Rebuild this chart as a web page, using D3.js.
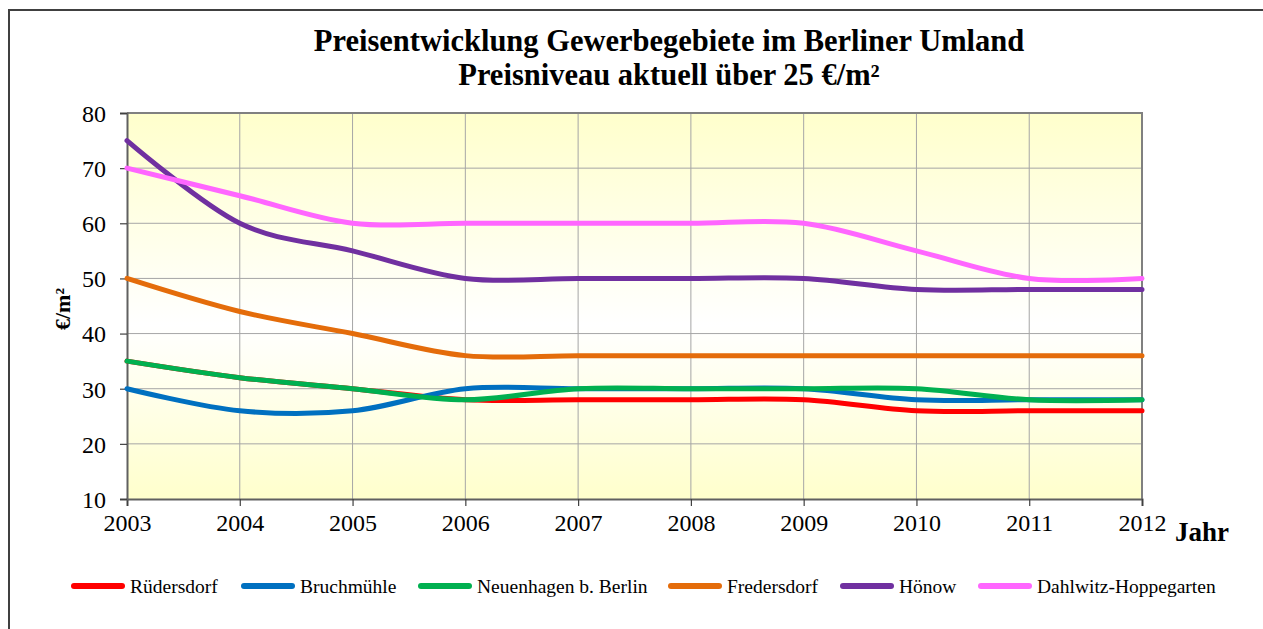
<!DOCTYPE html>
<html>
<head>
<meta charset="utf-8">
<script src="https://cdn.jsdelivr.net/npm/d3@7"></script>
<style>
  body { margin: 0; background: #fff; }
  svg { display: block; font-family: "Liberation Serif", "Times New Roman", serif; }
</style>
</head>
<body>
<svg id="chart" width="1263" height="629"></svg>
<script>
// years on the x axis
var years = [2003, 2004, 2005, 2006, 2007, 2008, 2009, 2010, 2011, 2012];
var yTicks = [10, 20, 30, 40, 50, 60, 70, 80];

// series values, one array per place
var ruedersdorf = [35, 32, 30, 28, 28, 28, 28, 26, 26, 26];
var bruchmuehle = [30, 26, 26, 30, 30, 30, 30, 28, 28, 28];
var neuenhagen  = [35, 32, 30, 28, 30, 30, 30, 30, 28, 28];
var fredersdorf = [50, 44, 40, 36, 36, 36, 36, 36, 36, 36];
var hoenow      = [75, 60, 55, 50, 50, 50, 50, 48, 48, 48];
var dahlwitz    = [70, 65, 60, 60, 60, 60, 60, 55, 50, 50];

var seriesNames  = ["Rüdersdorf", "Bruchmühle", "Neuenhagen b. Berlin", "Fredersdorf", "Hönow", "Dahlwitz-Hoppegarten"];
var seriesValues = [ruedersdorf, bruchmuehle, neuenhagen, fredersdorf, hoenow, dahlwitz];
var seriesColors = ["#ff0000", "#0070c0", "#00b050", "#e46c0a", "#7030a0", "#ff66ff"];

var svg = d3.select("#chart");

// outer chart frame (runs off the right and bottom of the picture)
svg.append("rect")
  .attr("x", 9).attr("y", 10)
  .attr("width", 1300).attr("height", 700)
  .style("fill", "none")
  .style("stroke", "#404040")
  .style("stroke-width", 2);

var plotLeft = 127, plotRight = 1142, plotTop = 113, plotBottom = 499;

var x = d3.scaleLinear().domain([2003, 2012]).range([plotLeft, plotRight]);
var y = d3.scaleLinear().domain([10, 80]).range([plotBottom, plotTop]);

// plot background gradient
var defs = svg.append("defs");
var grad = defs.append("linearGradient")
  .attr("id", "bg").attr("x1", 0).attr("y1", 0).attr("x2", 0).attr("y2", 1);
grad.append("stop").attr("offset", "0%").attr("stop-color", "#ffffcc");
grad.append("stop").attr("offset", "55%").attr("stop-color", "#ffffff");
grad.append("stop").attr("offset", "100%").attr("stop-color", "#ffffcc");

svg.append("rect")
  .attr("x", plotLeft).attr("y", plotTop)
  .attr("width", plotRight - plotLeft).attr("height", plotBottom - plotTop)
  .style("fill", "url(#bg)");

// grid lines
svg.append("g")
  .selectAll("line")
  .data(yTicks.slice(1))
  .join("line")
  .attr("x1", plotLeft).attr("x2", plotRight)
  .attr("y1", function(d) { return y(d); })
  .attr("y2", function(d) { return y(d); })
  .style("stroke", "#a6a6a6")
  .style("stroke-width", 1);

svg.append("g")
  .selectAll("line")
  .data(years.slice(1))
  .join("line")
  .attr("y1", plotTop).attr("y2", plotBottom)
  .attr("x1", function(d) { return x(d); })
  .attr("x2", function(d) { return x(d); })
  .style("stroke", "#a6a6a6")
  .style("stroke-width", 1);

// plot border top / right
svg.append("path")
  .attr("d", "M" + plotLeft + "," + plotTop + "H" + plotRight + "V" + plotBottom)
  .style("fill", "none")
  .style("stroke", "#808080")
  .style("stroke-width", 2);

// axes
var xAxis = svg.append("g")
  .attr("transform", "translate(0," + plotBottom + ")")
  .call(d3.axisBottom(x).tickValues(years).tickFormat(d3.format("d")).tickSize(7).tickPadding(8));
var yAxis = svg.append("g")
  .attr("transform", "translate(" + plotLeft + ",0)")
  .call(d3.axisLeft(y).tickValues(yTicks).tickSize(7).tickPadding(14));

[xAxis, yAxis].forEach(function(ax) {
  ax.select(".domain").style("stroke", "#606060").style("stroke-width", 2);
  ax.selectAll(".tick line").style("stroke", "#404040").style("stroke-width", 1.2);
  ax.selectAll("text")
    .style("font-family", "'Liberation Serif', serif")
    .style("font-size", "24px")
    .style("fill", "#000");
});
yAxis.selectAll("text").attr("dy", "0.35em");

// lines
var line = d3.line()
  .x(function(d, i) { return x(years[i]); })
  .y(function(d) { return y(d); })
  .curve(d3.curveCardinal.tension(0));

svg.append("g")
  .selectAll("path")
  .data(seriesValues)
  .join("path")
  .attr("d", line)
  .style("fill", "none")
  .style("stroke", function(d, i) { return seriesColors[i]; })
  .style("stroke-width", 5)
  .style("stroke-linecap", "round")
  .style("stroke-linejoin", "round");

// title
var title = svg.append("text")
  .attr("text-anchor", "middle")
  .style("font-weight", "bold")
  .style("font-size", "30.5px");
title.append("tspan").attr("x", 669).attr("y", 51).text("Preisentwicklung Gewerbegebiete im Berliner Umland");
title.append("tspan").attr("x", 669).attr("y", 85).text("Preisniveau aktuell über 25 €/m²");

// axis titles
svg.append("text")
  .attr("transform", "translate(70,309) rotate(-90)")
  .attr("text-anchor", "middle")
  .style("font-weight", "bold")
  .style("font-size", "22px")
  .text("€/m²");

svg.append("text")
  .attr("x", 1175).attr("y", 541)
  .style("font-weight", "bold")
  .style("font-size", "27px")
  .text("Jahr");

// legend
var legendX = [71, 241, 418, 668, 840, 978];
var legend = svg.append("g")
  .selectAll("g")
  .data(seriesNames)
  .join("g")
  .attr("transform", function(d, i) { return "translate(" + legendX[i] + ",586)"; });

legend.append("line")
  .attr("x1", 3).attr("x2", 51)
  .attr("y1", 0).attr("y2", 0)
  .style("stroke", function(d, i) { return seriesColors[i]; })
  .style("stroke-width", 6)
  .style("stroke-linecap", "round");

legend.append("text")
  .attr("x", 59).attr("y", 0).attr("dy", "0.35em")
  .style("font-size", "19.5px")
  .text(function(d) { return d; });
</script>
</body>
</html>
